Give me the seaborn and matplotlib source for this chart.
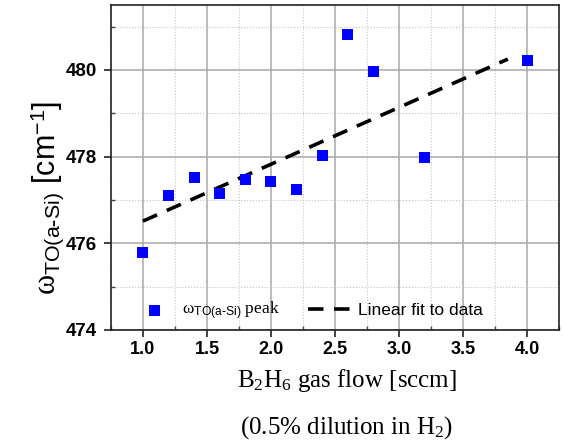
import numpy as np
import matplotlib
matplotlib.use("Agg")
import matplotlib.pyplot as plt
import seaborn as sns
import pandas as pd
from matplotlib.ticker import MultipleLocator

flow = [1.0, 1.2, 1.4, 1.6, 1.8, 2.0, 2.2, 2.4, 2.6, 2.8, 3.2, 4.0]
omega = [475.79, 477.11, 477.52, 477.15, 477.48, 477.43, 477.24, 478.03, 480.82, 479.97, 477.98, 480.22]
fit_x = [1.0, 3.85]
fit_y = [476.51, 480.25]
xticks = [1.0, 1.5, 2.0, 2.5, 3.0, 3.5, 4.0]
yticks = [474, 476, 478, 480]

sns.set_theme(style="white")
plt.rcParams['font.family'] = ['Liberation Sans', 'DejaVu Sans']
plt.rcParams['mathtext.fontset'] = 'custom'
plt.rcParams['mathtext.rm'] = 'Liberation Serif'
plt.rcParams['mathtext.it'] = 'Liberation Serif:italic'
plt.rcParams['mathtext.sf'] = 'Liberation Sans'
plt.rcParams['text.color'] = 'black'
plt.rcParams['xtick.color'] = 'black'
plt.rcParams['ytick.color'] = 'black'

fig = plt.figure(figsize=(5.63, 4.47), dpi=100)
ax = fig.add_axes([0.197, 0.262, 0.796, 0.727])

df = pd.DataFrame({"x": flow, "y": omega})
dfit = pd.DataFrame({"x": fit_x, "y": fit_y})

ax.set_xlim(0.75, 4.25)
ax.set_ylim(474, 481.5)
ax.xaxis.set_minor_locator(MultipleLocator(0.25))
ax.yaxis.set_minor_locator(MultipleLocator(1))
ax.grid(which='major', color='#a8a8a8', linestyle='-', linewidth=1.1, zorder=0)
ax.grid(which='minor', color='#c4c4c4', linestyle=':', linewidth=0.8, zorder=0)
ax.set_axisbelow(True)

sns.lineplot(data=dfit, x="x", y="y", ax=ax, color='black', linewidth=2.6,
             linestyle=(0, (4.3, 2.9)), label='fit', zorder=3)
sns.scatterplot(data=df, x="x", y="y", ax=ax, marker='s', s=62, color='#0000ff',
                edgecolor='none', label='peak', zorder=4)

for sp in ax.spines.values():
    sp.set_color('#222222')
    sp.set_linewidth(1.2)

ax.set_xticks(xticks)
ax.set_xticklabels([f"{v:.1f}" for v in xticks], fontweight='bold', fontsize=13)
ax.set_yticks(yticks)
ax.set_yticklabels([str(v) for v in yticks], fontweight='bold', fontsize=13.5)
ax.tick_params(which='major', direction='out', length=5, width=1.2, color='#222222',
               labelcolor='black', bottom=True, left=True, pad=3)
ax.tick_params(axis='y', which='major', pad=5)
ax.tick_params(which='minor', direction='in', length=3, width=1, color='#444444',
               bottom=True, left=True)

ax.set_xlabel("")
ax.set_ylabel("")
fig.text(47 / 563, 1 - 198 / 447,
         r"$\mathrm{ω}_{\mathsf{TO(a\text{-}Si)}}$ [cm$^{\mathsf{-1}}$]",
         rotation=90, ha='center', va='center', fontsize=22, family=['Liberation Sans'],
         color='black')
fig.text(347 / 563, 1 - 381 / 447, r"B$_2$H$_6$ gas flow [sccm]", ha='center', va='center',
         fontsize=18, family=['Liberation Serif'], color='black')
fig.text(347 / 563, 1 - 428 / 447, r"(0.5% dilution in H$_2$)", ha='center', va='center',
         fontsize=18, family=['Liberation Serif'], color='black')

# legend
h, l = ax.get_legend_handles_labels()
handles = [h[l.index('peak')], h[l.index('fit')]]
leg = ax.legend(handles, [r"ω$_{\mathsf{TO(a\text{-}Si)}}$ peak", 'Linear fit to data'],
                loc='center left', bbox_to_anchor=(0.047, 0.058), ncol=2, frameon=False,
                fontsize=12.5, columnspacing=1.6, handlelength=2.6, handletextpad=0.3,
                borderaxespad=0, borderpad=0)
leg.get_texts()[0].set_family(['Liberation Serif'])
for t in leg.get_texts():
    t.set_color('black')

fig.savefig("out.png", dpi=100)
